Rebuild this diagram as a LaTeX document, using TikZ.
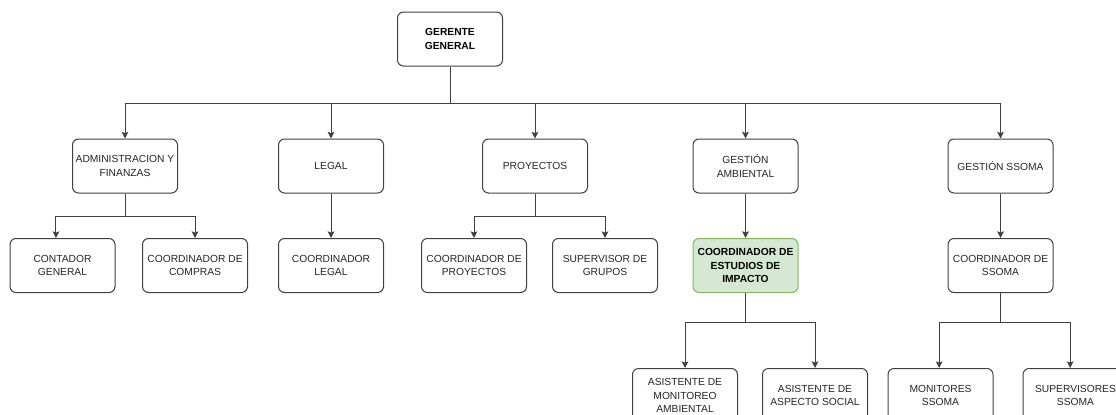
\documentclass[tikz,border=0pt]{standalone}
\usepackage{fontspec}
\setmainfont{Liberation Sans}
\usepackage{xcolor}
\usetikzlibrary{arrows.meta}
\definecolor{verdecargo}{HTML}{D5E8D4}
\definecolor{bordeverde}{HTML}{82B366}

\begin{document}
\begin{tikzpicture}[x=0.75pt,y=-0.75pt,
    cargo/.style={draw=black!75,line width=0.75pt,rounded corners=4.5pt,fill=white,
      minimum width=78.75pt,minimum height=40.5pt,align=center,inner sep=1pt,
      font=\fontsize{7.7pt}{10pt}\selectfont,text=black!85},
    cargobold/.style={cargo,font=\fontsize{7.7pt}{10pt}\selectfont\bfseries,text=black},
    linea/.style={draw=black!75,line width=0.75pt},
    flecha/.style={linea,-{Stealth[length=5pt,width=5pt,inset=1pt]}}]
    \useasboundingbox (0,0) rectangle (1116,414);

    \node[cargobold] (gerente) at (450,39) {GERENTE\\GENERAL};

    \node[cargo] (admin) at (125,166) {ADMINISTRACION Y\\FINANZAS};
    \node[cargo] (legal) at (331,166) {LEGAL};
    \node[cargo] (proyectos) at (535,166) {PROYECTOS};
    \node[cargo] (gambiental) at (745.5,166) {GESTIÓN\\AMBIENTAL};
    \node[cargo] (gssoma) at (1000.5,166) {GESTIÓN SSOMA};

    \node[cargo] (contador) at (62.5,265.5) {CONTADOR\\GENERAL};
    \node[cargo] (compras) at (195,265.5) {COORDINADOR DE\\COMPRAS};
    \node[cargo] (coordlegal) at (331,265.5) {COORDINADOR\\LEGAL};
    \node[cargo] (coordproy) at (474,265.5) {COORDINADOR DE\\PROYECTOS};
    \node[cargo] (supgrupos) at (605,265.5) {SUPERVISOR DE\\GRUPOS};
    \node[cargobold,fill=verdecargo,draw=bordeverde] (estudios) at (745.5,265.5)
        {COORDINADOR DE\\ESTUDIOS DE\\IMPACTO};
    \node[cargo] (coordssoma) at (1000.5,265.5) {COORDINADOR DE\\SSOMA};

    \node[cargo] (monitoreo) at (685,395.5) {ASISTENTE DE\\MONITOREO\\AMBIENTAL};
    \node[cargo] (social) at (815,395.5) {ASISTENTE DE\\ASPECTO SOCIAL};
    \node[cargo] (monitores) at (940.5,395.5) {MONITORES\\SSOMA};
    \node[cargo] (supervisores) at (1075.5,395.5) {SUPERVISORES\\SSOMA};

    \path (gerente.south) ++(0,37) coordinate (barra);
    \path (admin.south) ++(0,23) coordinate (ramaadmin);
    \path (proyectos.south) ++(0,23) coordinate (ramaproy);
    \path (estudios.south) ++(0,29.5) coordinate (ramaestudios);
    \path (coordssoma.south) ++(0,29.5) coordinate (ramassoma);

    \draw[linea] (gerente) -- (barra);
    \draw[flecha] (barra) -| (admin);
    \draw[flecha] (barra) -| (legal);
    \draw[flecha] (barra) -| (proyectos);
    \draw[flecha] (barra) -| (gambiental);
    \draw[flecha] (barra) -| (gssoma);

    \draw[linea] (admin) -- (ramaadmin);
    \draw[flecha] (ramaadmin) -| ([xshift=-4.9pt]contador.north);
    \draw[flecha] (ramaadmin) -| (compras);
    \draw[flecha] (legal) -- (coordlegal);
    \draw[linea] (proyectos) -- (ramaproy);
    \draw[flecha] (ramaproy) -| (coordproy);
    \draw[flecha] (ramaproy) -| (supgrupos);
    \draw[flecha] (gambiental) -- (estudios);
    \draw[flecha] (gssoma) -- (coordssoma);

    \draw[linea] (estudios) -- (ramaestudios);
    \draw[flecha] (ramaestudios) -| (monitoreo);
    \draw[flecha] (ramaestudios) -| (social);
    \draw[linea] (coordssoma) -- (ramassoma);
    \draw[flecha] (ramassoma) -| ([xshift=-1pt]monitores.north);
    \draw[flecha] (ramassoma) -| ([xshift=-4pt]supervisores.north);
\end{tikzpicture}
\end{document}
